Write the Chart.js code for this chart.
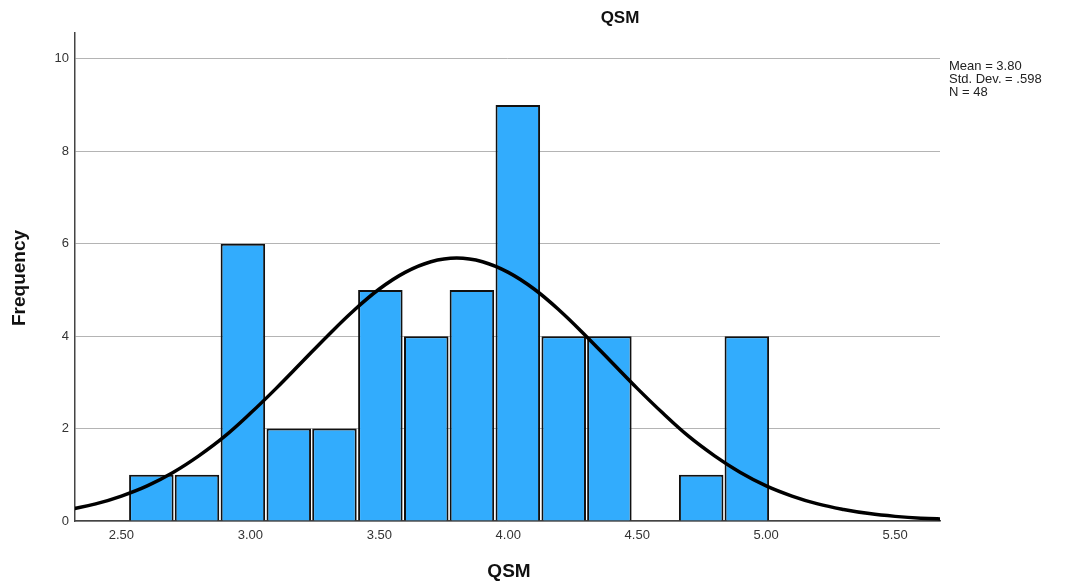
<!DOCTYPE html>
<html>
<head>
<meta charset="utf-8">
<script src="https://cdn.jsdelivr.net/npm/chart.js@4/dist/chart.umd.min.js"></script>
<style>
  html, body { margin: 0; padding: 0; background: #fff; }
  #wrap { position: relative; width: 1067px; height: 583px; }
</style>
</head>
<body>
<div id="wrap"><canvas id="hist"></canvas></div>
<script>
// Histogram of QSM with normal curve
Chart.defaults.font.family = "'Liberation Sans', Arial, sans-serif";
Chart.defaults.color = '#333';

// bin centres (width ~0.178) and counts
const binCenters = [2.616, 2.793, 2.971, 3.149, 3.326, 3.504, 3.682, 3.859, 4.037, 4.215, 4.392, 4.570, 4.748, 4.925];
const frequencies = [1, 1, 6, 2, 2, 5, 4, 5, 9, 4, 4, 0, 1, 4];

// normal curve
const curveX = [2.3, 2.4, 2.5, 2.6, 2.7, 2.8, 2.9, 3.0, 3.1, 3.2, 3.3, 3.4, 3.5, 3.6, 3.7, 3.8,
                3.9, 4.0, 4.1, 4.2, 4.3, 4.4, 4.5, 4.6, 4.7, 4.8, 4.9, 5.0, 5.1, 5.2, 5.3, 5.4, 5.5, 5.6, 5.7];
const curveY = [0.25, 0.37, 0.54, 0.76, 1.05, 1.41, 1.83, 2.33, 2.87, 3.44, 4.01, 4.55, 5.02, 5.38, 5.61, 5.69,
                5.61, 5.38, 5.02, 4.55, 4.01, 3.44, 2.87, 2.33, 1.83, 1.41, 1.05, 0.76, 0.54, 0.37, 0.25, 0.16, 0.10, 0.06, 0.04];

const xTicks = [2.5, 3.0, 3.5, 4.0, 4.5, 5.0, 5.5];
const yTicks = [0, 2, 4, 6, 8, 10];
const statsLines = ['Mean = 3.80', 'Std. Dev. = .598', 'N = 48'];

const textPlugin = {
    id: 'spssText',
    afterDraw(chart) {
        const ctx = chart.ctx;
        ctx.save();
        ctx.fillStyle = '#111';
        ctx.textAlign = 'center';
        ctx.textBaseline = 'middle';
        ctx.font = "bold 17px 'Liberation Sans', Arial, sans-serif";
        ctx.fillText('QSM', 620, 18);

        ctx.font = "bold 19px 'Liberation Sans', Arial, sans-serif";
        ctx.fillText('QSM', 509, 572);

        ctx.save();
        ctx.translate(20, 278);
        ctx.rotate(-Math.PI / 2);
        ctx.fillText('Frequency', 0, 0);
        ctx.restore();

        ctx.textAlign = 'left';
        ctx.font = "13px 'Liberation Sans', Arial, sans-serif";
        ctx.fillStyle = '#222';
        statsLines.forEach((s, i) => ctx.fillText(s, 949, 66 + i * 13));
        ctx.restore();
    }
};

new Chart(document.getElementById('hist'), {
    data: {
        datasets: [
            {
                type: 'line',
                data: curveX.map((x, i) => ({ x: x, y: curveY[i] })),
                borderColor: '#000',
                borderWidth: 3.5,
                pointRadius: 0,
                tension: 0.4,
                fill: false,
                order: 0
            },
            {
                type: 'bar',
                data: binCenters.map((x, i) => ({ x: x, y: frequencies[i] })),
                backgroundColor: '#32acfd',
                borderColor: '#111',
                borderWidth: 2,
                borderSkipped: 'bottom',
                barPercentage: 0.975,
                categoryPercentage: 1.0,
                order: 1
            }
        ]
    },
    options: {
        responsive: true,
        maintainAspectRatio: false,
        animation: false,
        layout: { padding: { top: 33, right: 127, left: 0, bottom: 0 } },
        plugins: {
            legend: { display: false },
            tooltip: { enabled: false }
        },
        scales: {
            x: {
                type: 'linear',
                offset: false,
                min: 2.32,
                max: 5.674,
                afterBuildTicks: axis => { axis.ticks = xTicks.map(v => ({ value: v })); },
                afterFit: axis => { axis.height = 62; },
                grid: { display: false, drawTicks: false, offset: false },
                border: { display: true, color: '#444', width: 1.5 },
                ticks: {
                    padding: 7,
                    font: { size: 13 },
                    color: '#333',
                    callback: v => v.toFixed(2)
                }
            },
            y: {
                min: 0,
                max: 10.56,
                afterBuildTicks: axis => { axis.ticks = yTicks.map(v => ({ value: v })); },
                afterFit: axis => { axis.width = 75; },
                grid: { color: '#b4b4b4', lineWidth: 1, drawTicks: false },
                border: { display: true, color: '#444', width: 1.5 },
                ticks: {
                    padding: 6,
                    font: { size: 13 },
                    color: '#333'
                }
            }
        }
    },
    plugins: [textPlugin]
});
</script>
</body>
</html>
